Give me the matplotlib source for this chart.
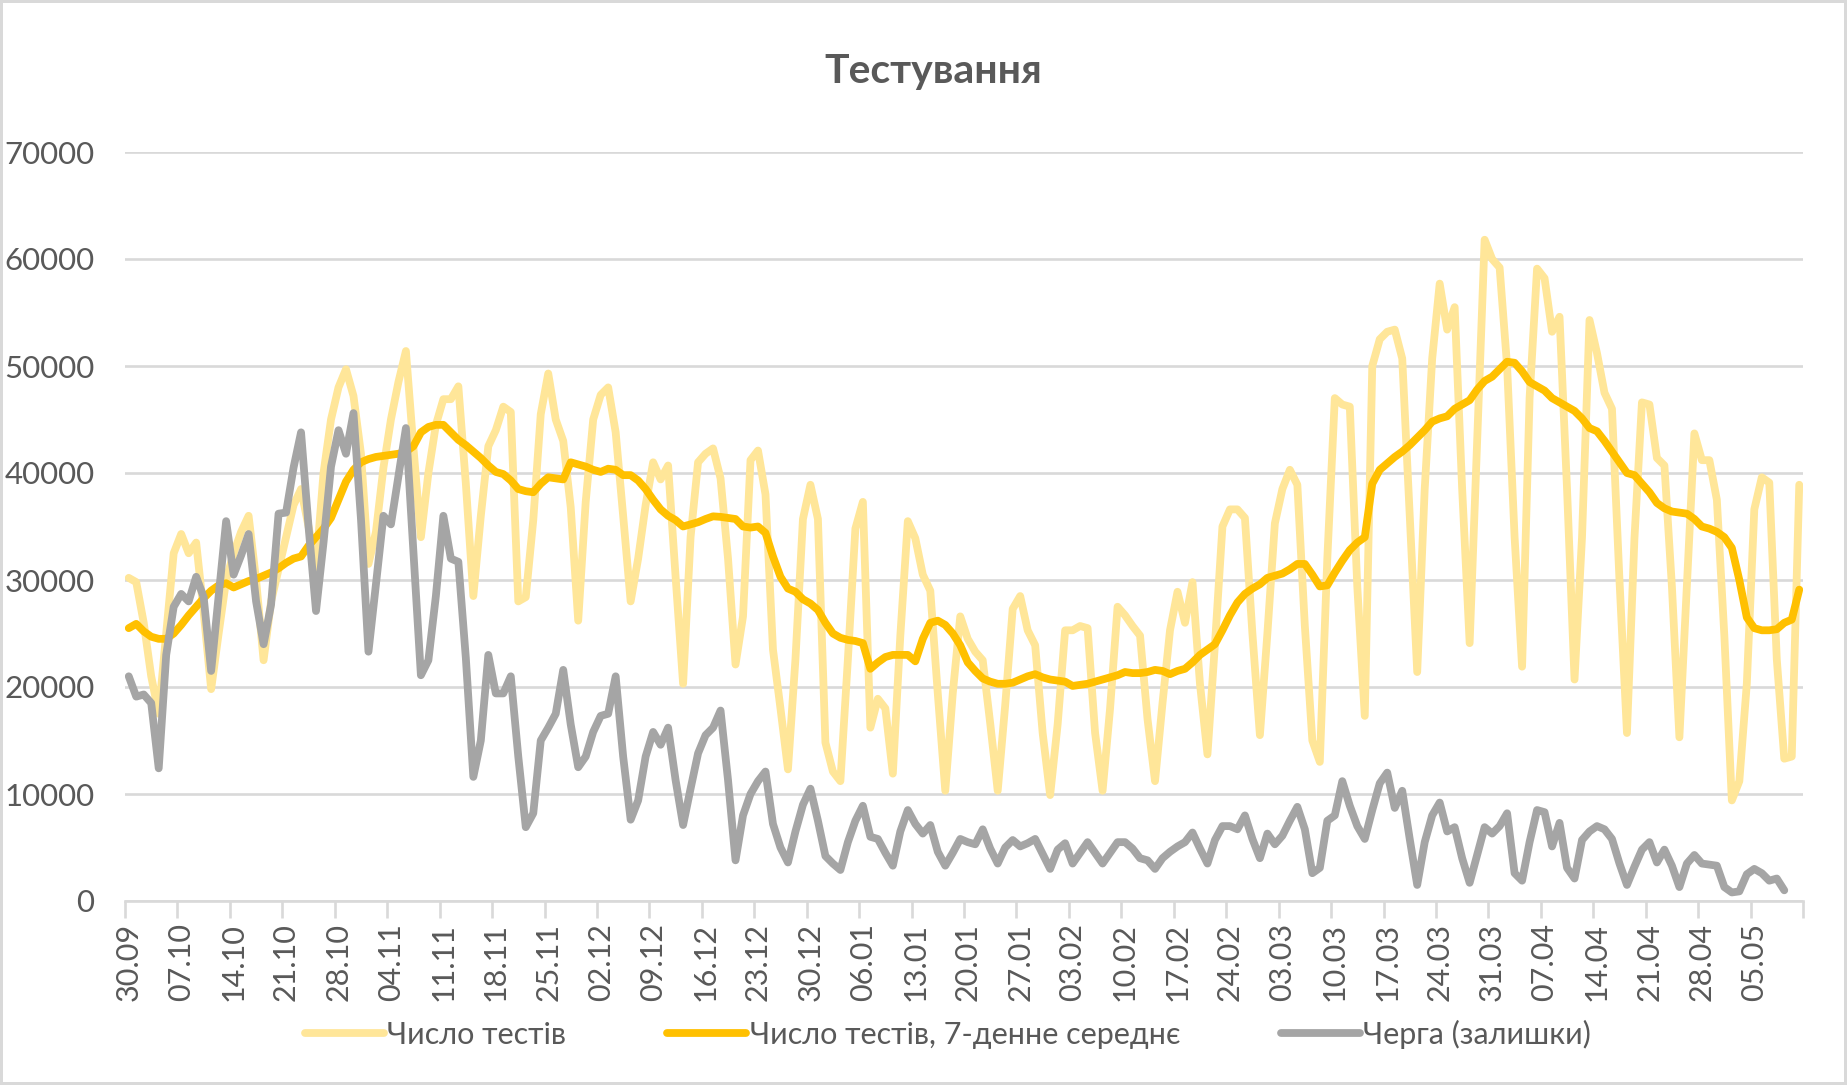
import numpy as np
import pandas as pd
import matplotlib
matplotlib.use("Agg")
import matplotlib.pyplot as plt
import matplotlib.dates as mdates
from matplotlib.ticker import FixedLocator, FuncFormatter

plt.rcParams['font.family'] = ['Lato', 'DejaVu Sans']

# Дані з графіка (щоденні, починаючи з 30.09.2020)
start = pd.Timestamp("2020-09-30")

tests = [
    30200, 29800, 26000, 21000, 17500, 25000, 32500, 34300, 32500, 33500,
    27000, 19800, 25000, 30000, 32500, 34500, 36000, 30000, 22500, 28000,
    31000, 34000, 37000, 38500, 35000, 31200, 40000, 45000, 48000, 49700,
    47200, 41800, 31500, 34500, 40500, 45000, 48500, 51400, 42400, 34000,
    40000, 44500, 46900, 46900, 48100, 39000, 28500, 36000, 42500, 44000,
    46200, 45700, 28000, 28400, 35600, 45500, 49300, 45000, 43000, 36800,
    26200, 37300, 45000, 47300, 48000, 43800, 36000, 28000, 32000, 37000,
    41000, 39400, 40700, 30300, 20300, 34000, 41000, 41800, 42300, 39500,
    32000, 22100, 26600, 41200, 42100, 38000, 23500, 18000, 12300, 22600,
    35700, 38900, 35700, 14800, 12100, 11200, 22600, 34800, 37300, 16200,
    18900, 18000, 11900, 24800, 35500, 33900, 30500, 29000, 19400, 10300,
    19400, 26600, 24500, 23300, 22500, 16600, 10300, 18300, 27300, 28500,
    25300, 23900, 15700, 9900, 16500, 25300, 25300, 25700, 25500, 15700,
    10300, 18000, 27500, 26700, 25700, 24800, 17000, 11200, 18500, 25300,
    28900, 26000, 29800, 20300, 13700, 24000, 35000, 36600, 36600, 35800,
    25000, 15500, 25000, 35300, 38500, 40300, 38900, 25700, 15000, 13000,
    32000, 47000, 46400, 46200, 29400, 17300, 50000, 52500, 53200, 53400,
    50700, 36000, 21400, 38500, 50700, 57700, 53400, 55500, 38500, 24100,
    43000, 61800, 60000, 59200, 50000, 34000, 21900, 47000, 59100, 58200,
    53200, 54600, 38500, 20700, 34000, 54300, 51200, 47500, 46000, 30000,
    15700, 33900, 46600, 46400, 41400, 40700, 29400, 15300, 29400, 43700,
    41200, 41200, 37500, 24800, 9400, 11200, 20300, 36600, 39600, 39100,
    22600, 13300, 13500, 38900,
]

tests_avg7 = [
    25500, 25900, 25200, 24700, 24500, 24500, 25000, 25800, 26700, 27500,
    28300, 29000, 29500, 29700, 29300, 29600, 29900, 30100, 30400, 30700,
    31100, 31600, 32000, 32200, 33200, 34000, 34800, 35800, 37500, 39200,
    40300, 41000, 41300, 41500, 41600, 41700, 41800, 42000, 42500, 43800,
    44300, 44500, 44500, 43800, 43100, 42600, 42000, 41400, 40700, 40100,
    39900, 39300, 38500, 38300, 38200, 39000, 39600, 39500, 39400, 41000,
    40800, 40600, 40300, 40100, 40400, 40300, 39800, 39800, 39300, 38500,
    37500, 36600, 36000, 35600, 35000, 35200, 35400, 35700, 35950, 35900,
    35800, 35700, 35000, 34900, 35000, 34400, 32200, 30300, 29200, 28900,
    28200, 27800, 27200, 26000, 25000, 24600, 24400, 24300, 24100, 21700,
    22300, 22800, 23000, 23000, 23000, 22400, 24500, 26000, 26200, 25800,
    25000, 23900, 22300, 21500, 20800, 20500, 20300, 20300, 20400, 20700,
    21000, 21200, 20900, 20700, 20600, 20500, 20100, 20200, 20300, 20500,
    20700, 20900, 21100, 21400, 21300, 21300, 21400, 21600, 21500, 21200,
    21500, 21700, 22300, 23000, 23500, 24000, 25300, 26700, 27900, 28700,
    29200, 29600, 30200, 30400, 30600, 31000, 31500, 31500, 30500, 29400,
    29500, 30700, 31800, 32800, 33500, 34000, 39000, 40300, 40900, 41500,
    42000, 42600, 43300, 44000, 44800, 45100, 45300, 46000, 46400, 46800,
    47800, 48600, 49000, 49700, 50400, 50300, 49500, 48500, 48100, 47700,
    47000, 46600, 46200, 45800, 45100, 44200, 43900, 43000, 42000, 41000,
    40000, 39800, 39000, 38200, 37200, 36700, 36400, 36300, 36200, 35700,
    35000, 34800, 34500, 34000, 33000, 30000, 26500, 25500, 25300, 25300,
    25400, 26000, 26300, 29100,
]

queue = [
    21000, 19100, 19300, 18500, 12400, 23000, 27500, 28700, 28000, 30300,
    28400, 21500, 28500, 35500, 30500, 32300, 34300, 28000, 24000, 27700,
    36200, 36300, 40500, 43800, 35000, 27100, 33500, 40600, 44000, 41800,
    45600, 35700, 23300, 29600, 36000, 35200, 39700, 44200, 32700, 21100,
    22500, 28500, 36000, 32000, 31700, 22700, 11600, 15000, 23000, 19400,
    19400, 21000, 13500, 6900, 8200, 15000, 16200, 17500, 21600, 16500,
    12500, 13500, 15800, 17300, 17500, 21000, 13500, 7600, 9400, 13500,
    15800, 14600, 16200, 11300, 7100, 10500, 13800, 15500, 16200, 17800,
    11300, 3800, 8000, 10000, 11200, 12100, 7200, 5000, 3600, 6500,
    9000, 10500, 7500, 4200, 3500, 2900, 5500, 7500, 8900, 6000,
    5800, 4500, 3300, 6500, 8500, 7200, 6300, 7100, 4600, 3300,
    4500, 5800, 5500, 5300, 6700, 4900, 3500, 5000, 5700, 5100,
    5400, 5800, 4400, 3000, 4800, 5400, 3500, 4500, 5500, 4500,
    3500, 4500, 5500, 5500, 4900, 4000, 3800, 3000, 4000, 4600,
    5100, 5500, 6400, 4900, 3500, 5700, 7000, 7000, 6700, 8000,
    5800, 4000, 6300, 5300, 6100, 7500, 8800, 6700, 2600, 3100,
    7500, 8000, 11200, 8900, 7000, 5800, 8500, 11000, 12000, 8700,
    10300, 5800, 1500, 5500, 8000, 9200, 6500, 6900, 4000, 1700,
    4300, 6900, 6300, 7000, 8200, 2600, 1900, 5500, 8500, 8300,
    5100, 7300, 3100, 2100, 5700, 6500, 7000, 6700, 5800, 3500,
    1500, 3200, 4800, 5500, 3600, 4800, 3300, 1300, 3500, 4300,
    3500, 3400, 3300, 1300, 800, 900, 2500, 3000, 2600, 1900,
    2100, 1000,
]

labels = ["Число тестів", "Число тестів, 7-денне середнє", "Черга (залишки)"]
colors = ["#FFE699", "#FFC000", "#A5A5A5"]

n_days = len(tests)
half = pd.Timedelta(hours=12)  # точки посередині категорії, як в Excel


def dates_for(values):
    return pd.date_range(start, periods=len(values), freq="D") + half


fig = plt.figure(figsize=(18.47, 10.85), dpi=100)
fig.patch.set_edgecolor("#D9D9D9")
fig.patch.set_linewidth(3)

ax = fig.add_axes([125 / 1847, 1 - 901 / 1085, (1803 - 125) / 1847, (901 - 152) / 1085])

for vals, lab, col in zip([tests, tests_avg7, queue], labels, colors):
    ax.plot(dates_for(vals), vals, color=col, lw=5.6, label=lab,
            solid_joinstyle="round", solid_capstyle="round")

ax.set_ylim(0, 70000)
ax.set_yticks(np.arange(0, 70001, 10000))
ax.yaxis.grid(True, color="#D9D9D9", lw=1.9)
ax.set_axisbelow(True)

x0 = mdates.date2num(start)
ax.set_xlim(x0, x0 + n_days)
# підписи кожні 7 днів, засічки на межах категорій
major = [x0 + k + 0.5 for k in range(0, n_days, 7)]
minor = [x0 + k for k in range(0, n_days + 1, 7)]
ax.xaxis.set_major_locator(FixedLocator(major))
ax.xaxis.set_minor_locator(FixedLocator(minor))
ax.xaxis.set_major_formatter(FuncFormatter(lambda v, p: mdates.num2date(v).strftime("%d.%m")))
ax.tick_params(axis="x", which="major", length=0, pad=16, labelrotation=90,
               labelsize=22, labelcolor="#595959")
ax.tick_params(axis="x", which="minor", length=12, width=1.9, color="#D9D9D9")
ax.tick_params(axis="y", length=0, pad=22, labelsize=22.5, labelcolor="#595959")

for s in ["top", "right", "left"]:
    ax.spines[s].set_visible(False)
ax.spines["bottom"].set_color("#D9D9D9")
ax.spines["bottom"].set_linewidth(1.9)

fig.text(933 / 1847, 1 - 71 / 1085, "Тестування", ha="center", va="center",
         fontsize=29.5, fontweight="bold", color="#595959")

leg = fig.legend(loc="center", bbox_to_anchor=(948 / 1847, 1 - 1034 / 1085), ncol=3,
                 frameon=False, fontsize=22, handlelength=2.6, handletextpad=0.1,
                 columnspacing=3.3, labelcolor="#595959")

fig.savefig("out.png", dpi=100)
